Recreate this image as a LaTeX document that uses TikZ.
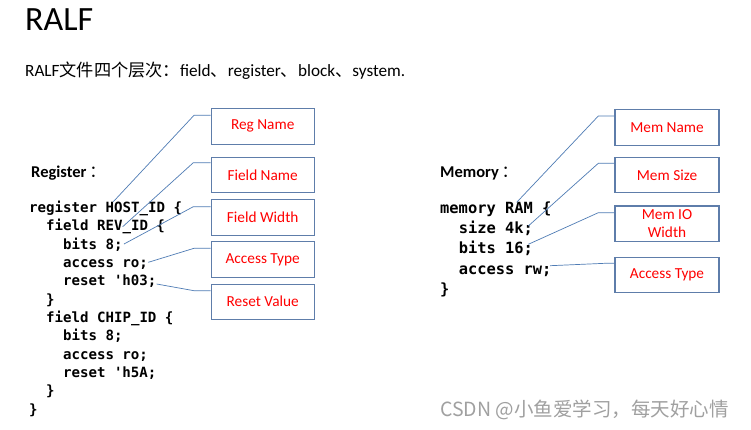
\documentclass[tikz,border=0pt]{standalone}
\usepackage{fontspec}
\setmainfont{Carlito}
\newfontfamily\cjk{Noto Sans CJK SC}
\newfontfamily\codefont{DejaVu Sans Mono}
\definecolor{boxblue}{HTML}{5E7DAA}
\definecolor{lineblue}{HTML}{4F7CB5}
\definecolor{labelred}{HTML}{FF0000}
\definecolor{wmgray}{HTML}{A0A0A0}
\begin{document}
\begin{tikzpicture}[x=1pt,y=-1pt,
  lbl/.style={draw=boxblue,line width=1.1pt,text=labelred,align=center,inner sep=0pt,
    font=\fontsize{15.3}{16}\selectfont},
  codeL/.style={anchor=base west,inner sep=0pt,font=\codefont\bfseries\fontsize{14.1}{18}\selectfont},
  codeR/.style={anchor=base west,inner sep=0pt,font=\codefont\bfseries\fontsize{15.4}{20}\selectfont},
  conn/.style={draw=lineblue,line width=0.7pt},
  heading/.style={anchor=base west,inner sep=0pt,font=\bfseries\fontsize{16.5}{18}\selectfont}]
\useasboundingbox (0,0) rectangle (751,429);
\fill[white] (0,0) rectangle (751,429);

% title
\node[anchor=base west,inner sep=0pt,font=\fontsize{34}{40}\selectfont] (title) at (25,30) {RALF};
\node[anchor=base west,inner sep=0pt,font=\fontsize{17.2}{20}\selectfont] (sub) at (25,76)
  {RALF{\cjk 文件四个层次：}field{\cjk 、}register{\cjk 、}block{\cjk 、}system.};

% headings
\node[heading] (regh) at (31,177) {Register\,{\cjk\mdseries ：}};
\node[heading] (memh) at (440,177) {Memory\,{\cjk\mdseries ：}};

% register code
\def\cwl{8.47}
\node[codeL] (l1) at (29,212.5) {register HOST\_ID \{};
\node[codeL] (l2) at (29+2*\cwl,230.8) {field REV\_ID \{};
\node[codeL] (l3) at (29+4*\cwl,249.2) {bits 8;};
\node[codeL] (l4) at (29+4*\cwl,267.5) {access ro;};
\node[codeL] (l5) at (29+4*\cwl,285.8) {reset 'h03;};
\node[codeL] (l6) at (29+2*\cwl,304.2) {\}};
\node[codeL] (l7) at (29+2*\cwl,322.5) {field CHIP\_ID \{};
\node[codeL] (l8) at (29+4*\cwl,340.8) {bits 8;};
\node[codeL] (l9) at (29+4*\cwl,359.2) {access ro;};
\node[codeL] (l10) at (29+4*\cwl,377.5) {reset 'h5A;};
\node[codeL] (l11) at (29+2*\cwl,395.8) {\}};
\node[codeL] (l12) at (29,414.2) {\}};

% memory code
\def\cwr{9.3}
\node[codeR] (m1) at (440,213.3) {memory RAM \{};
\node[codeR] (m2) at (440+2*\cwr,233.5) {size 4k;};
\node[codeR] (m3) at (440+2*\cwr,253.8) {bits 16;};
\node[codeR] (m4) at (440+2*\cwr,274) {access rw;};
\node[codeR] (m5) at (440,294.2) {\}};

% left label boxes
\node[lbl,minimum width=103.3pt,minimum height=36pt] (regname) at (262.7,126.3) {Reg Name};
\node[lbl,minimum width=103.3pt,minimum height=35pt] (fieldname) at (262.7,174.8) {Field Name};
\node[lbl,minimum width=103.3pt,minimum height=35.7pt] (fieldwidth) at (262.7,217.2) {Field Width};
\node[lbl,minimum width=103.3pt,minimum height=35.6pt] (access1) at (262.7,259.5) {Access Type};
\node[lbl,minimum width=103.3pt,minimum height=35.3pt] (resetval) at (262.7,301.7) {Reset Value};

% right label boxes
\node[lbl,minimum width=104pt,minimum height=35.7pt] (memname) at (667,127.2) {Mem Name};
\node[lbl,minimum width=104pt,minimum height=35pt] (memsize) at (667,174.8) {Mem Size};
\node[lbl,minimum width=104pt,minimum height=35.7pt,font=\fontsize{15.3}{18}\selectfont] (memio) at (667,223.8) {Mem IO\\Width};
\node[lbl,minimum width=104pt,minimum height=35.4pt] (access2) at (667,275) {Access Type};

% connector end points on the code
\coordinate (p1) at (113.3,201.7);
\coordinate (p2) at (122.7,226.7);
\coordinate (p3) at (124,244);
\coordinate (p4) at (148.3,262.3);
\coordinate (p5) at (156.7,284);
\coordinate (q1) at (516.7,202.3);
\coordinate (q2) at (528.3,226);
\coordinate (q3) at (528.3,244.3);
\coordinate (q4) at (550,265.7);

% connectors
\draw[conn] (regname.west |- 0,115.3) -- (194,115.3) -- (p1);
\draw[conn] (fieldname.west |- 0,162.7) -- (193.3,162.7) -- (p2);
\draw[conn] (fieldwidth.west |- 0,206.7) -- (193.3,206.7) -- (p3);
\draw[conn] (access1.west |- 0,248.3) -- (194,248.3) -- (p4);
\draw[conn] (resetval.west |- 0,290.7) -- (194,290.7) -- (p5);

\draw[conn] (memname.west |- 0,116) -- (598.3,116) -- (q1);
\draw[conn] (memsize.west |- 0,163.3) -- (598.3,163.3) -- (q2);
\draw[conn] (memio.west |- 0,212.7) -- (598.3,212.7) -- (q3);
\draw[conn] (access2.west |- 0,263.3) -- (605,263.3) -- (q4);

% watermark
\node[anchor=base west,inner sep=0pt,text=wmgray,font=\cjk\fontsize{19.5}{22}\selectfont] (wm) at (440,416) {CSDN @小鱼爱学习，每天好心情};
\end{tikzpicture}
\end{document}
